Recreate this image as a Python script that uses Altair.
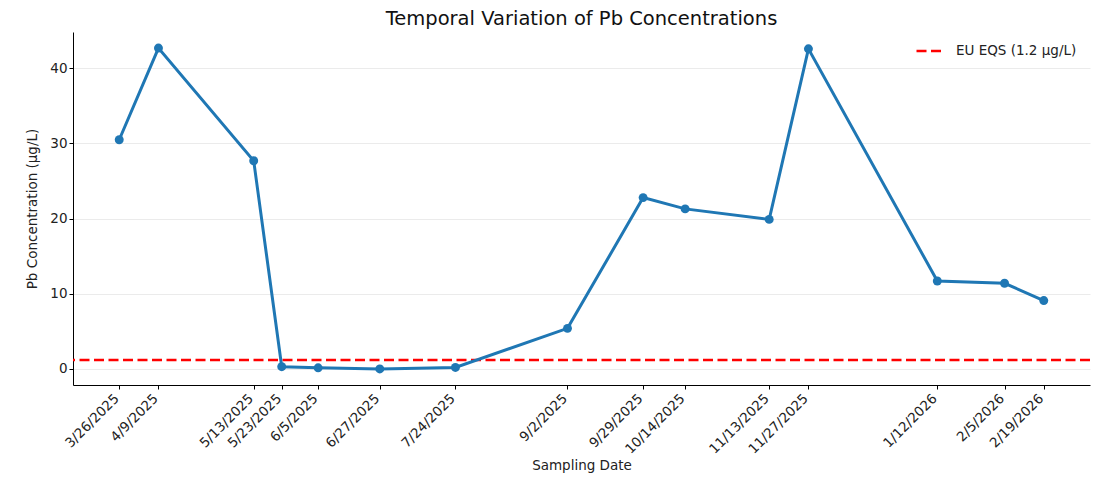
import altair as alt
import pandas as pd

dates = ["2025-03-26", "2025-04-09", "2025-05-13", "2025-05-23", "2025-06-05",
         "2025-06-27", "2025-07-24", "2025-09-02", "2025-09-29", "2025-10-14",
         "2025-11-13", "2025-11-27", "2026-01-12", "2026-02-05", "2026-02-19"]
pb = [30.5, 42.7, 27.7, 0.3, 0.15, 0.0, 0.2, 5.4, 22.8, 21.3, 19.9, 42.6, 11.7, 11.4, 9.1]
eqs_value = [1.2]
eqs_label = ["EU EQS (1.2 μg/L)"]

df = pd.DataFrame({"date": dates, "pb": pb})
thr = pd.DataFrame({"value": eqs_value, "label": eqs_label})

ms = [int((pd.Timestamp(d) - pd.Timestamp("1970-01-01")) // pd.Timedelta(milliseconds=1)) for d in dates]
span = ms[-1] - ms[0]
xdom = [ms[0] - 0.05 * span, ms[-1] + 0.05 * span]
yspan = max(pb) - min(pb)
ydom = [min(pb) - 0.05 * yspan, max(pb) + 0.05 * yspan]

FONT = "DejaVu Sans"
FS = 13.5

x_enc = alt.X(
    "date:T",
    scale=alt.Scale(type="utc", domain=xdom, nice=False),
    axis=alt.Axis(
        values=ms, labelExpr="utcFormat(datum.value, '%-m/%-d/%Y')", labelAngle=315,
        labelAlign="right", labelBaseline="alphabetic", labelPadding=10,
        title="Sampling Date", titlePadding=3, grid=False, labelOverlap=False,
        labelFlush=False,
    ),
)
y_enc = alt.Y(
    "pb:Q",
    scale=alt.Scale(domain=ydom, nice=False, zero=False),
    axis=alt.Axis(values=[0, 10, 20, 30, 40], title="Pb Concentration (μg/L)",
                  titlePadding=10, grid=True),
)

line = alt.Chart(df).mark_line(color="#1f77b4", strokeWidth=3).encode(x=x_enc, y=y_enc)
pts = alt.Chart(df).mark_point(color="#1f77b4", filled=True, opacity=1, size=80).encode(x=x_enc, y=y_enc)

rule = alt.Chart(thr).mark_rule(strokeWidth=2.6, strokeDash=[10, 4.5]).encode(
    y=alt.Y("value:Q"),
    color=alt.Color(
        "label:N",
        scale=alt.Scale(range=["#ff0000"]),
        legend=alt.Legend(
            title=None, orient="none", legendX=842, legendY=5,
            symbolType="stroke", symbolSize=625, symbolStrokeWidth=2.6,
            symbolDash=[10, 4.5], labelFontSize=FS, labelFont=FONT,
            labelColor="#222", labelOffset=13,
        ),
    ),
)

chart = alt.layer(rule, line, pts).properties(
    width=1017, height=353,
    title=alt.TitleParams("Temporal Variation of Pb Concentrations", fontSize=19.5,
                          font=FONT, fontWeight="normal", color="#111", offset=3),
    autosize=alt.AutoSizeParams(type="none"),
    padding={"left": 65, "top": 24, "right": 4, "bottom": 88},
).configure_view(stroke=None).configure_axis(
    labelFont=FONT, titleFont=FONT, labelFontSize=FS, titleFontSize=FS,
    titleFontWeight="normal", labelColor="#222", titleColor="#222",
    domainColor="#000", tickColor="#000", tickSize=4, domainWidth=1,
    gridColor="#ebebeb", gridWidth=1,
)

chart.save("out.html", embed_options={"renderer": "svg", "actions": False})
